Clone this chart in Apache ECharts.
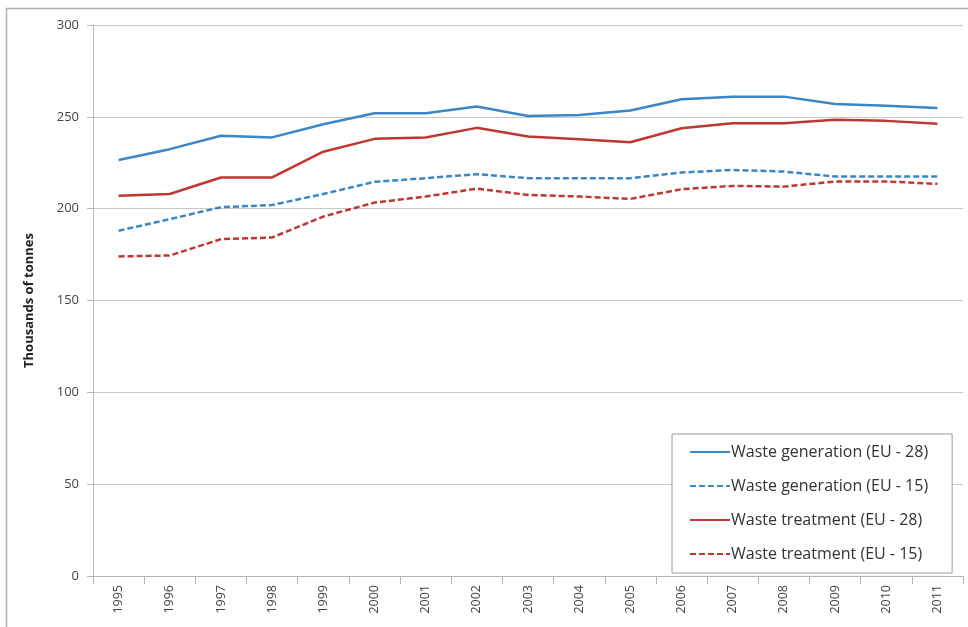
<!DOCTYPE html>
<html>
<head>
<meta charset="utf-8">
<script src="https://cdn.jsdelivr.net/npm/echarts@6/dist/echarts.min.js"></script>
<style>html,body{margin:0;padding:0;background:#fff}#c{width:968px;height:627px}</style>
</head>
<body>
<div id="c"></div>
<script>
var years = ['1995','1996','1997','1998','1999','2000','2001','2002','2003','2004','2005','2006','2007','2008','2009','2010','2011'];
var genEU28 = [226.5,232.4,239.7,238.8,246.0,252.0,252.0,255.6,250.5,251.0,253.4,259.6,261.0,261.0,257.0,256.0,254.8];
var genEU15 = [188.0,194.3,200.8,202.0,208.0,214.6,216.6,218.8,216.6,216.6,216.6,219.7,221.1,220.2,217.5,217.5,217.5];
var treatEU28 = [207.0,208.0,217.0,217.0,231.0,238.0,238.7,244.0,239.3,237.8,236.2,243.8,246.5,246.5,248.4,247.8,246.2];
var treatEU15 = [174.0,174.5,183.4,184.3,195.7,203.3,206.6,210.9,207.5,206.6,205.3,210.6,212.4,212.0,214.8,214.8,213.5];
var seriesNames = ['Waste generation (EU - 28)','Waste generation (EU - 15)','Waste treatment (EU - 28)','Waste treatment (EU - 15)'];
var yTicks = {min:0, max:300, interval:50};

var BLUE = '#3a86c6', RED = '#c0372f';
var font = '"Open Sans", "Liberation Sans", sans-serif';
var chart = echarts.init(document.getElementById('c'), null, {renderer:'canvas'});
function mk(name, data, color, type){
  return {name:name, type:'line', data:data, symbol:'none', smooth:false,
    lineStyle:{color:color, width:2.5, type:type}, itemStyle:{color:color}, z:3};
}
chart.setOption({
  animation:false,
  backgroundColor:'#fff',
  graphic:[{type:'polyline', shape:{points:[[6.5,700],[6.5,8.5],[1000,8.5]]}, style:{stroke:'#b0b0b0', lineWidth:1.5, fill:null}, silent:true}],
  grid:{left:93, top:25, right:5, bottom:51, containLabel:false},
  legend:{
    orient:'vertical', left:672, top:434,
    backgroundColor:'#fff', borderColor:'#9a9a9a', borderWidth:1,
    padding:[10,24,11,17], itemGap:18, itemWidth:40, itemHeight:14,
    itemStyle:{opacity:0},
    textStyle:{fontFamily:font, fontSize:16, color:'#333', padding:[0,0,0,-4]},
    data:seriesNames
  },
  xAxis:{type:'category', data:years, boundaryGap:true,
    axisLine:{lineStyle:{color:'#b5b5b5', width:1}},
    axisTick:{show:true, length:8, lineStyle:{color:'#b5b5b5'}, alignWithLabel:false},
    axisLabel:{rotate:90, interval:0, margin:9, fontFamily:font, fontSize:12.5, color:'#444'},
    splitLine:{show:false}
  },
  yAxis:{type:'value', min:yTicks.min, max:yTicks.max, interval:yTicks.interval,
    name:'Thousands of tonnes', nameLocation:'middle', nameGap:57, nameRotate:90,
    nameTextStyle:{fontFamily:font, fontSize:13, fontWeight:'bold', color:'#222'},
    axisLine:{show:true, lineStyle:{color:'#b5b5b5'}},
    axisTick:{show:true, length:6, lineStyle:{color:'#b5b5b5'}},
    axisLabel:{margin:14, fontFamily:font, fontSize:13, color:'#444'},
    splitLine:{lineStyle:{color:'#c8c8c8', width:1}}
  },
  series:[
    mk(seriesNames[0], genEU28, BLUE, 'solid'),
    mk(seriesNames[1], genEU15, BLUE, [6,3]),
    mk(seriesNames[2], treatEU28, RED, 'solid'),
    mk(seriesNames[3], treatEU15, RED, [6,3])
  ]
});
</script>
</body>
</html>
